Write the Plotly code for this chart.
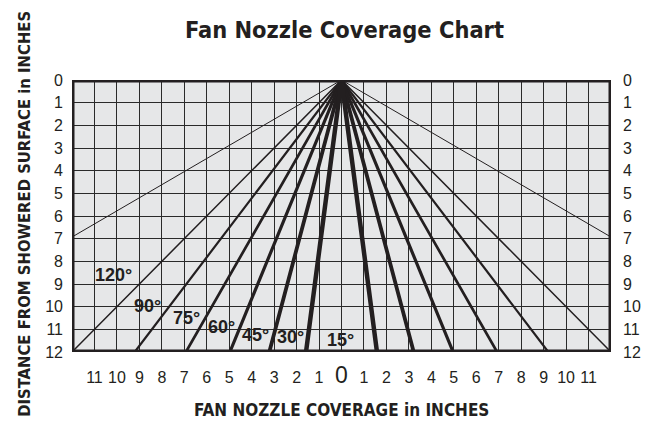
import math
import plotly.graph_objects as go

# ---------------- data ----------------
chart_title = "Fan Nozzle Coverage Chart"
x_title = "FAN NOZZLE COVERAGE in INCHES"
y_title = "DISTANCE FROM SHOWERED SURFACE in INCHES"

spray_angles = [120, 90, 75, 60, 45, 30, 15]          # fan angle, degrees
angle_labels = ["120°", "90°", "75°", "60°", "45°", "30°", "15°"]
max_distance = 12                                     # inches from nozzle
half_width_range = 12                                 # inches each side

x_tick_values = list(range(-11, 12))
x_tick_labels = [str(abs(v)) for v in x_tick_values]
y_tick_values = list(range(0, 13))
y_tick_labels = [str(v) for v in y_tick_values]

# ---------------- style ----------------
line_widths = [1.0, 1.5, 2.2, 2.7, 3.2, 3.8, 4.5]
label_positions = [(-10.17, 8.59), (-8.63, 9.95), (-6.92, 10.52), (-5.33, 10.88),
                   (-3.84, 11.23), (-2.25, 11.36), (-0.05, 11.45)]
INK = "#231f20"
NARROW = "Liberation Sans Narrow, DejaVu Sans Condensed, Arial Narrow, sans-serif"
SANS = "Liberation Sans, Arial, Helvetica, sans-serif"

# page body has an 8px margin, so the figure is sized to fill the rest
W, H = 645, 417
ML, MR, MT, MB = 63.5, 36, 72, 72.5

fig = go.Figure()

for ang, lw in zip(spray_angles, line_widths):
    half = max_distance * math.tan(math.radians(ang / 2))
    fig.add_trace(go.Scatter(
        x=[-half, 0, half], y=[max_distance, 0, max_distance],
        mode="lines", line=dict(color=INK, width=lw),
        hoverinfo="skip", showlegend=False))

# invisible trace to carry the right-hand axis
fig.add_trace(go.Scatter(x=[0], y=[0], yaxis="y2", mode="markers",
                         marker=dict(opacity=0), hoverinfo="skip", showlegend=False))

for txt, (lx, ly) in zip(angle_labels, label_positions):
    fig.add_annotation(x=lx, y=ly, text=txt, showarrow=False,
                       font=dict(family=SANS, size=18, color=INK, weight="bold"),
                       xanchor="center", yanchor="middle")

x_ticktext = [('<span style="font-size:23px">0</span>' if t == "0" else t) for t in x_tick_labels]

plot_h = H - MT - MB
plot_w = W - ML - MR
fig.add_annotation(xref="paper", yref="paper", x=0.5, y=-(402.5 - (H - MB)) / plot_h,
                   text=f"<b>{x_title}</b>", showarrow=False,
                   font=dict(family=NARROW, size=17, color=INK),
                   xanchor="center", yanchor="middle")
fig.add_annotation(xref="paper", yref="paper", x=-(ML - 16) / plot_w, y=(H - MB - 206) / plot_h,
                   text=f"<b>{y_title}</b>", showarrow=False, textangle=-90,
                   font=dict(family=NARROW, size=16.5, color=INK),
                   xanchor="center", yanchor="middle")

fig.add_shape(type="rect", xref="x", yref="y", x0=-half_width_range, x1=half_width_range,
              y0=0, y1=max_distance, line=dict(color=INK, width=5), layer="above")

fig.update_layout(
    width=W, height=H,
    margin=dict(l=ML, r=MR, t=MT, b=MB, pad=0),
    paper_bgcolor="white", plot_bgcolor="#e6e7e8",
    title=dict(text=f"<b>{chart_title}</b>", x=336.5 / W, xanchor="center",
               y=1 - 21.6 / H, yanchor="middle", yref="container",
               font=dict(family=NARROW, size=23.4, color=INK)),
    xaxis=dict(range=[-half_width_range, half_width_range], tickvals=x_tick_values,
               ticktext=x_ticktext, showgrid=True, gridcolor="#2a2a2a", gridwidth=1.2,
               zeroline=False, showline=False, ticks="", ticklabelstandoff=14,
               tickfont=dict(family=SANS, size=16, color=INK), fixedrange=True),
    yaxis=dict(range=[max_distance, 0], tickvals=y_tick_values, ticktext=y_tick_labels,
               showgrid=True, gridcolor="#2a2a2a", gridwidth=1.2, zeroline=False,
               showline=False, ticks="", ticklabelstandoff=8,
               tickfont=dict(family=SANS, size=16, color=INK), fixedrange=True),
    yaxis2=dict(range=[max_distance, 0], tickvals=y_tick_values, ticktext=y_tick_labels,
                overlaying="y", side="right", showgrid=False, zeroline=False,
                showline=False, ticks="", ticklabelstandoff=11,
                tickfont=dict(family=SANS, size=16, color=INK), fixedrange=True),
    showlegend=False,
)

fig.write_html("out.html")
